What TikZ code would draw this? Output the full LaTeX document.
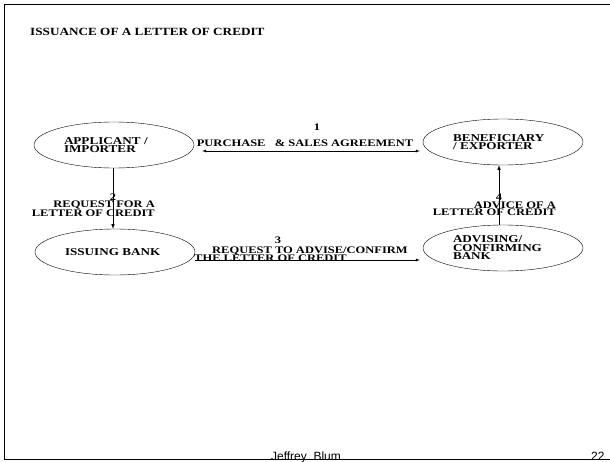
\documentclass[tikz,border=0pt]{standalone}
\usepackage{fontspec}
\setmainfont{Liberation Serif}
\newfontfamily\lblfont[FakeStretch=1.25]{Liberation Serif}
\newfontfamily\titlefont[FakeStretch=1.2]{Liberation Serif}
\newfontfamily\footfont{Liberation Sans}
\usetikzlibrary{shapes.geometric}
\usetikzlibrary{calc}

\tikzset{
    party/.style={draw,ellipse,thin,minimum width=160pt,minimum height=46pt,inner sep=0pt,
        text width=100pt,align=left,font=\lblfont\bfseries\fontsize{10.5}{8.5}\selectfont},
    lbl/.style={inner sep=0pt,font=\lblfont\bfseries\fontsize{10}{7}\selectfont},
}

\begin{document}
\begin{tikzpicture}[x=1pt,y=-1pt]
                \useasboundingbox (0,0) rectangle (610,461);
                \node[anchor=west,inner sep=0pt,font=\titlefont\bfseries\fontsize{11}{13}\selectfont] (title) at (30,32) {ISSUANCE OF A LETTER OF CREDIT};

                \node[party] (app) at (114,145) {APPLICANT /\\IMPORTER};
                \node[party] (ben) at (503,142) {BENEFICIARY\\/ EXPORTER};
                \node[party] (iss) at (115,252) {ISSUING BANK};
                \node[party] (adv) at (503,248) {ADVISING/\\CONFIRMING\\BANK};

                \draw[latex-latex,thin] ([shift={(8,6)}]app.east)--([shift={(-3,9)}]ben.west);
                \node[lbl] (n1) at (317,127) {1};
                \node[lbl] (t1) at (305,143) {PURCHASE \ \ \& SALES AGREEMENT};

                \draw[-latex,semithick] ([xshift=-1pt]app.south)--([xshift=-2pt]iss.north);
                \node[lbl] (n2) at (113,197) {2};
                \node[lbl,align=right,anchor=east] (t2) at (155,208.5) {REQUEST FOR A\\LETTER OF CREDIT};

                \draw[-latex,thin] ([shift={(0,8)}]iss.east)--([shift={(-3,12)}]adv.west);
                \node[lbl] (n3) at (278,240) {3};
                \node[lbl] (t3a) at (310,251) {REQUEST TO ADVISE/CONFIRM};
                \node[lbl,anchor=west] (t3b) at (194,258) {THE LETTER OF CREDIT};

                \draw[-latex,semithick] ([xshift=-4pt]adv.north)--([xshift=-4pt]ben.south);
                \node[lbl] (n4) at (499,197) {4};
                \node[lbl,align=right,anchor=east] (t4) at (556,208.5) {ADVICE OF A\\LETTER OF CREDIT};

                \node[anchor=base,font=\footfont\fontsize{12}{14}\selectfont] (author) at (306,460) {Jeffrey\ \ Blum};
                \node[anchor=base east,font=\footfont\fontsize{12}{14}\selectfont] (page) at (608,460) {22};
                \draw[line width=1.8pt] (612,4.5)--(4.5,4.5)--(4.5,459.5)--(612,459.5);
            \end{tikzpicture}
\end{document}
